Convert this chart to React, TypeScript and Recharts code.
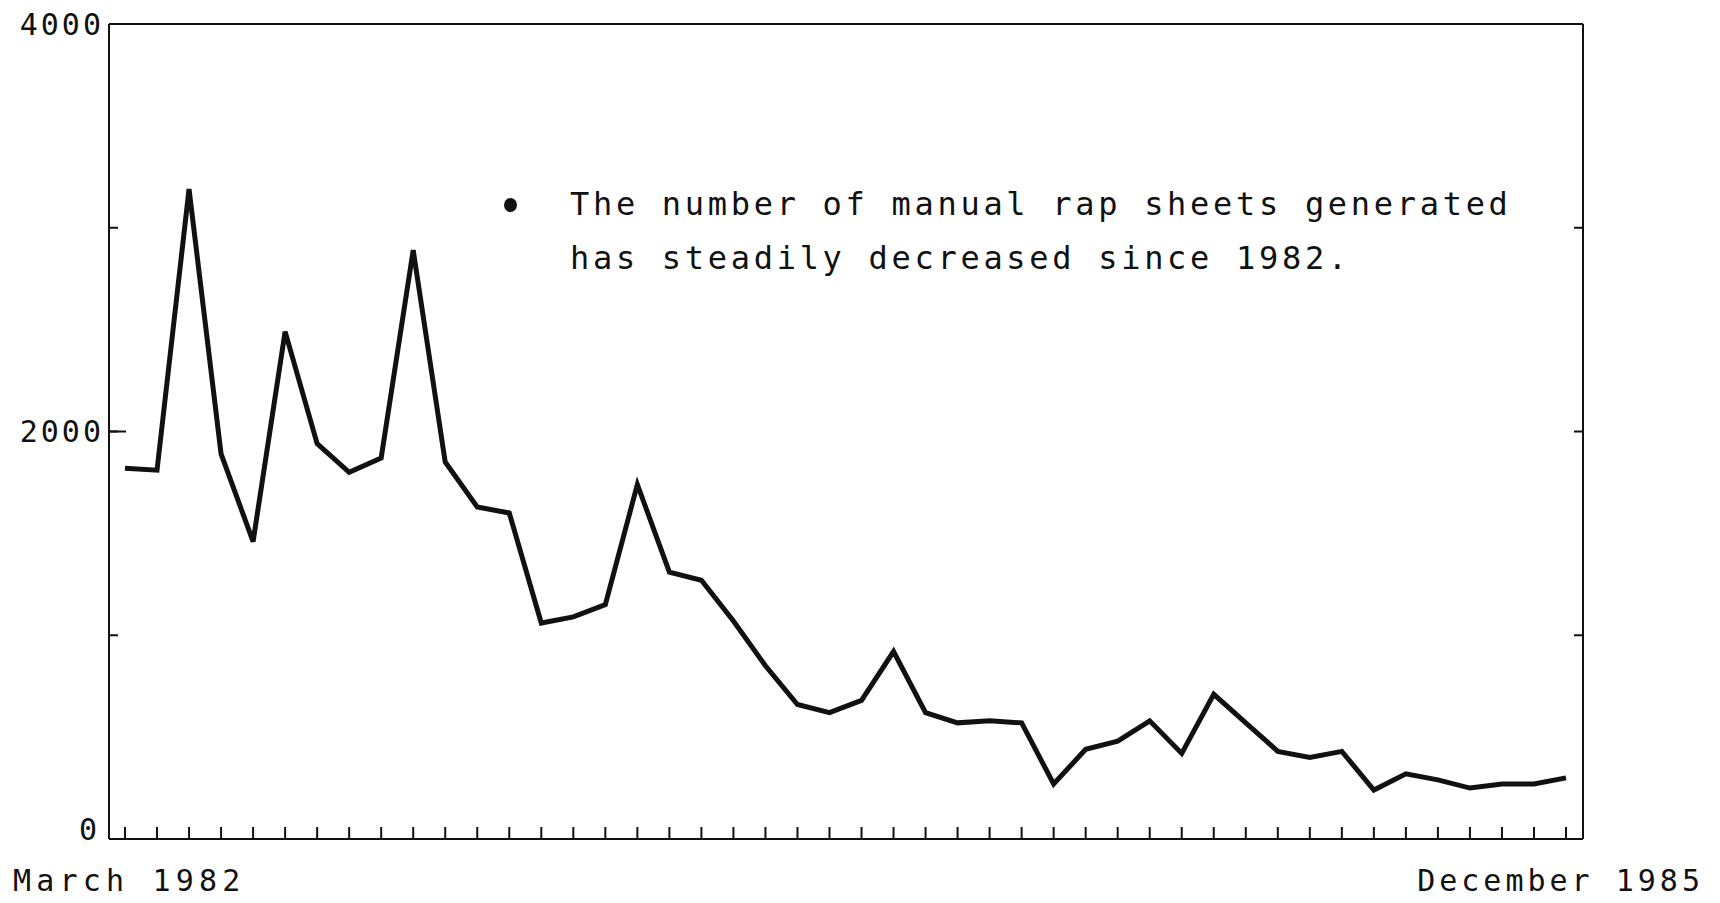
import { LineChart, Line, XAxis, YAxis, ReferenceLine } from 'recharts';

// monthly counts of manual rap sheets, March 1982 .. December 1985
const months = [
  'Mar 1982', 'Apr 1982', 'May 1982', 'Jun 1982', 'Jul 1982', 'Aug 1982', 'Sep 1982', 'Oct 1982', 'Nov 1982', 'Dec 1982',
  'Jan 1983', 'Feb 1983', 'Mar 1983', 'Apr 1983', 'May 1983', 'Jun 1983', 'Jul 1983', 'Aug 1983', 'Sep 1983', 'Oct 1983', 'Nov 1983', 'Dec 1983',
  'Jan 1984', 'Feb 1984', 'Mar 1984', 'Apr 1984', 'May 1984', 'Jun 1984', 'Jul 1984', 'Aug 1984', 'Sep 1984', 'Oct 1984', 'Nov 1984', 'Dec 1984',
  'Jan 1985', 'Feb 1985', 'Mar 1985', 'Apr 1985', 'May 1985', 'Jun 1985', 'Jul 1985', 'Aug 1985', 'Sep 1985', 'Oct 1985', 'Nov 1985', 'Dec 1985',
];

const rapSheets = [
  1820, 1810, 3190, 1890, 1460, 2490, 1940, 1800, 1870, 2890,
  1850, 1630, 1600, 1060, 1090, 1150, 1740, 1310, 1270, 1070, 850, 660,
  620, 680, 920, 620, 570, 580, 570, 270, 440, 480, 580, 420,
  710, 570, 430, 400, 430, 240, 320, 290, 250, 270, 270, 300,
];

const labelTicks = [0, 2000, 4000];
const minorTicks = [1000, 2000, 3000];

const firstLabel = 'March 1982';
const lastLabel = 'December 1985';
const noteLines = [
  'The number of manual rap sheets generated',
  'has steadily decreased since 1982.',
];

const data = months.map((m, i) => ({ month: m, value: rapSheets[i] }));

const FONT = '"DejaVu Sans Mono", "Liberation Mono", monospace';
const INK = '#111';

const NoTick = () => <g />;

const LeftTick = ({ x, y, payload }: any) => (
  <text
    x={x}
    y={y}
    dy={payload.value === 0 ? -10 : 0}
    dx={payload.value === 0 ? -4 : 0}
    textAnchor="end"
    dominantBaseline="central"
    fill={INK}
    fontSize={30}
    fontFamily={FONT}
    letterSpacing={3}
  >
    {payload.value}
  </text>
);

// longer inward stub at 2000 on the left edge
const leftStub = (props: any) => {
  const a = Number(props.x1);
  const b = Number(props.x2);
  const x0 = Number.isFinite(a) && Number.isFinite(b) ? Math.min(a, b) : 110;
  return <line x1={x0} x2={x0 + 17} y1={props.y1} y2={props.y1} stroke={INK} strokeWidth={2} />;
};

export default function App() {
  const textStyle = {
    position: 'absolute' as const,
    fontFamily: FONT,
    fontSize: 30,
    letterSpacing: 5.2,
    color: INK,
    lineHeight: '30px',
    whiteSpace: 'nowrap' as const,
  };

  return (
    <div style={{ position: 'absolute', left: 0, top: 0, width: 1720, height: 903, background: '#fff' }}>
      <LineChart
        width={1720}
        height={903}
        data={data}
        margin={{ top: 23, right: 137, bottom: 64, left: 108 }}
      >
        <XAxis
          xAxisId="bottom"
          dataKey="month"
          height={1}
          interval={0}
          mirror
          tickSize={12}
          tick={NoTick}
          padding={{ left: 16, right: 17 }}
          axisLine={{ stroke: INK, strokeWidth: 2 }}
          tickLine={{ stroke: INK, strokeWidth: 2 }}
        />
        <XAxis
          xAxisId="top"
          dataKey="month"
          orientation="top"
          height={1}
          tick={false}
          tickLine={false}
          axisLine={{ stroke: INK, strokeWidth: 2 }}
        />
        {/* inner left axis: frame line plus inward ticks, set up like the right one */}
        <YAxis
          yAxisId="leftMinor"
          orientation="left"
          domain={[0, 4000]}
          ticks={minorTicks}
          interval={0}
          width={1}
          mirror
          tickSize={9}
          tick={NoTick}
          axisLine={{ stroke: INK, strokeWidth: 2 }}
          tickLine={{ stroke: INK, strokeWidth: 2 }}
        />
        <YAxis
          yAxisId="left"
          domain={[0, 4000]}
          ticks={labelTicks}
          interval={0}
          width={1}
          tickSize={0}
          tickMargin={5}
          tickLine={false}
          axisLine={false}
          tick={LeftTick}
        />
        <YAxis
          yAxisId="right"
          orientation="right"
          domain={[0, 4000]}
          ticks={minorTicks}
          interval={0}
          width={1}
          mirror
          tickSize={9}
          tick={NoTick}
          axisLine={{ stroke: INK, strokeWidth: 2 }}
          tickLine={{ stroke: INK, strokeWidth: 2 }}
        />
        <ReferenceLine xAxisId="bottom" yAxisId="leftMinor" y={2000} ifOverflow="visible" shape={leftStub} />
        {/* invisible copies so the tick-only axes get a scale */}
        <Line xAxisId="bottom" yAxisId="leftMinor" dataKey="value" stroke="none" strokeWidth={0} dot={false} activeDot={false} isAnimationActive={false} />
        <Line xAxisId="bottom" yAxisId="right" dataKey="value" stroke="none" strokeWidth={0} dot={false} activeDot={false} isAnimationActive={false} />
        <Line
          xAxisId="bottom"
          yAxisId="left"
          type="linear"
          dataKey="value"
          stroke={INK}
          strokeWidth={5}
          strokeLinejoin="miter"
          dot={false}
          isAnimationActive={false}
        />
      </LineChart>

      <div style={{ position: 'absolute', left: 504, top: 198, width: 13, height: 14, borderRadius: '50%', background: INK }} />
      <div style={{ ...textStyle, left: 570, top: 189, fontSize: 32, letterSpacing: 3.7 }}>
        <div style={{ height: 54 }}>{noteLines[0]}</div>
        <div>{noteLines[1]}</div>
      </div>
      <div style={{ ...textStyle, left: 13, top: 866 }}>{firstLabel}</div>
      <div style={{ ...textStyle, right: 16, top: 866, letterSpacing: 4 }}>{lastLabel}</div>
    </div>
  );
}
